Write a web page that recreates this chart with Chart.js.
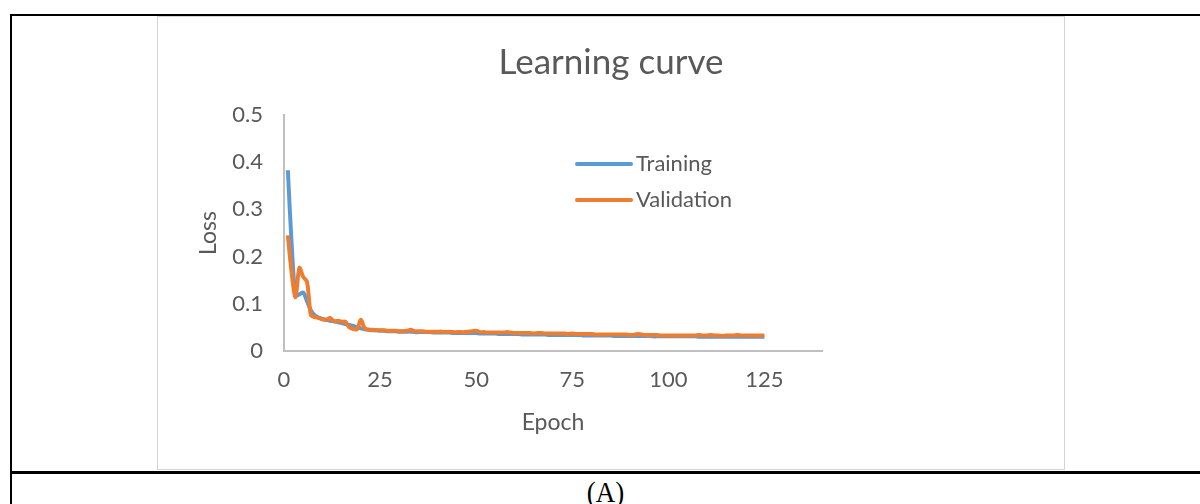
<!DOCTYPE html>
<html>
<head>
<meta charset="utf-8">
<script src="https://cdn.jsdelivr.net/npm/chart.js@4"></script>
<style>
  html, body { margin: 0; padding: 0; background: #fff; }
  body { width: 1200px; height: 504px; position: relative; overflow: hidden; }
  .rule { position: absolute; background: #000; }
  #frame {
    position: absolute; left: 157px; top: 16px; width: 908px; height: 454px;
    box-sizing: border-box; border: 1px solid #d4d4d4; background: #fff;
  }
  #caption {
    position: absolute; left: 11px; right: 0; top: 476px; height: 32px;
    text-align: center; font-family: "Liberation Serif", "DejaVu Serif", serif;
    font-size: 30px; line-height: 32px; color: #000;
    transform: scaleX(0.9);
  }
</style>
</head>
<body>
<div class="rule" style="left:11px; top:14px; width:1189px; height:2px;"></div>
<div class="rule" style="left:10px; top:14px; width:2px; height:490px;"></div>
<div class="rule" style="left:11px; top:471px; width:1189px; height:3px;"></div>
<div id="frame"><canvas id="lossChart" width="906" height="452"></canvas></div>
<div id="caption">(A)</div>

<script>
// Loss per epoch
const epochs = Array.from({ length: 125 }, (_, i) => i + 1);

const trainingLoss = [
  0.383, 0.225, 0.118, 0.120, 0.124, 0.105, 0.086, 0.076, 0.071, 0.068,
  0.066, 0.064, 0.063, 0.061, 0.059, 0.057, 0.055, 0.053, 0.050, 0.048,
  0.046, 0.045, 0.044, 0.044, 0.043, 0.043, 0.042, 0.042, 0.042, 0.041,
  0.041, 0.041, 0.041, 0.040, 0.040, 0.040, 0.040, 0.040, 0.039, 0.039,
  0.039, 0.039, 0.039, 0.038, 0.038, 0.038, 0.038, 0.038, 0.038, 0.038,
  0.037, 0.037, 0.037, 0.037, 0.037, 0.036, 0.036, 0.036, 0.036, 0.036,
  0.036, 0.035, 0.035, 0.035, 0.035, 0.035, 0.035, 0.035, 0.034, 0.034,
  0.034, 0.034, 0.034, 0.034, 0.034, 0.034, 0.034, 0.033, 0.033, 0.033,
  0.033, 0.033, 0.033, 0.033, 0.033, 0.032, 0.032, 0.032, 0.032, 0.032,
  0.032, 0.032, 0.032, 0.032, 0.032, 0.031, 0.031, 0.031, 0.031, 0.031,
  0.031, 0.031, 0.031, 0.031, 0.031, 0.031, 0.031, 0.030, 0.030, 0.030,
  0.030, 0.030, 0.030, 0.030, 0.030, 0.030, 0.030, 0.030, 0.030, 0.030,
  0.030, 0.030, 0.030, 0.030, 0.030
];

const validationLoss = [
  0.245, 0.165, 0.114, 0.176, 0.157, 0.146, 0.076, 0.072, 0.070, 0.067,
  0.066, 0.070, 0.063, 0.064, 0.062, 0.062, 0.050, 0.047, 0.046, 0.066,
  0.048, 0.045, 0.045, 0.044, 0.044, 0.044, 0.043, 0.043, 0.043, 0.042,
  0.042, 0.043, 0.045, 0.042, 0.042, 0.042, 0.041, 0.041, 0.041, 0.041,
  0.041, 0.040, 0.041, 0.040, 0.040, 0.040, 0.040, 0.041, 0.042, 0.043,
  0.040, 0.040, 0.039, 0.039, 0.039, 0.039, 0.039, 0.040, 0.039, 0.038,
  0.038, 0.038, 0.038, 0.038, 0.037, 0.038, 0.038, 0.037, 0.037, 0.037,
  0.037, 0.037, 0.037, 0.036, 0.037, 0.036, 0.036, 0.036, 0.036, 0.036,
  0.035, 0.035, 0.035, 0.035, 0.035, 0.035, 0.035, 0.035, 0.035, 0.034,
  0.034, 0.036, 0.035, 0.034, 0.034, 0.034, 0.034, 0.033, 0.033, 0.033,
  0.033, 0.033, 0.033, 0.033, 0.033, 0.033, 0.033, 0.034, 0.033, 0.033,
  0.034, 0.033, 0.033, 0.032, 0.033, 0.033, 0.033, 0.034, 0.033, 0.033,
  0.033, 0.033, 0.033, 0.033, 0.033
];

const xTicks = [0, 25, 50, 75, 100, 125];
const seriesNames = ['Training', 'Validation'];
const seriesColors = ['#5B9BD5', '#ED7D31'];

const textColor = '#595959';
const axisColor = '#bfbfbf';
const fontFamily = 'Lato, "Open Sans", sans-serif';

// Excel-style title and in-plot legend
const excelDecor = {
    id: 'excelDecor',
    afterDraw(chart) {
        const ctx = chart.ctx;
        ctx.save();
        ctx.fillStyle = textColor;
        ctx.font = '35px ' + fontFamily;
        ctx.textAlign = 'center';
        ctx.textBaseline = 'alphabetic';
        ctx.fillText('Learning curve', 453, 57);

        ctx.font = '22px ' + fontFamily;
        ctx.textAlign = 'left';
        ctx.textBaseline = 'middle';
        chart.data.datasets.forEach((ds, i) => {
            const y = 147 + i * 36;
            ctx.strokeStyle = ds.borderColor;
            ctx.lineWidth = 4;
            ctx.lineCap = 'round';
            ctx.beginPath();
            ctx.moveTo(419, y);
            ctx.lineTo(473, y);
            ctx.stroke();
            ctx.fillText(ds.label, 478, y);
        });
        ctx.restore();
    }
};

const ctx = document.getElementById('lossChart').getContext('2d');
new Chart(ctx, {
    type: 'line',
    data: {
        datasets: [
            {
                label: seriesNames[0],
                data: epochs.map((e, i) => ({ x: e, y: trainingLoss[i] })),
                borderColor: seriesColors[0],
                borderWidth: 4,
                pointRadius: 0,
                tension: 0.3,
                order: 2
            },
            {
                label: seriesNames[1],
                data: epochs.map((e, i) => ({ x: e, y: validationLoss[i] })),
                borderColor: seriesColors[1],
                borderWidth: 4,
                pointRadius: 0,
                tension: 0.3,
                order: 1
            }
        ]
    },
    options: {
        responsive: false,
        animation: false,
        events: [],
        layout: {
            padding: { left: 0, top: 98, right: 242, bottom: 0 }
        },
        plugins: {
            legend: { display: false },
            title: { display: false },
            tooltip: { enabled: false }
        },
        scales: {
            x: {
                type: 'linear',
                min: 0,
                max: 140,
                afterBuildTicks: scale => {
                    scale.ticks = xTicks.map(v => ({ value: v }));
                },
                afterFit: scale => { scale.height = 118; },
                grid: { display: false, drawTicks: false },
                border: { display: true, color: axisColor, width: 2 },
                ticks: {
                    color: textColor,
                    padding: 16,
                    maxRotation: 0,
                    font: { family: fontFamily, size: 22 }
                },
                title: {
                    display: true,
                    text: 'Epoch',
                    color: textColor,
                    padding: { top: 0, bottom: 33 },
                    font: { family: fontFamily, size: 23 }
                }
            },
            y: {
                min: 0,
                max: 0.5,
                afterFit: scale => { scale.width = 126; },
                grid: { display: false, drawTicks: false },
                border: { display: true, color: axisColor, width: 2 },
                ticks: {
                    stepSize: 0.1,
                    color: textColor,
                    padding: 21,
                    font: { family: fontFamily, size: 22 },
                    callback: v => (v === 0 ? '0' : v.toFixed(1))
                },
                title: {
                    display: true,
                    text: 'Loss',
                    color: textColor,
                    padding: { top: 37, bottom: 0 },
                    font: { family: fontFamily, size: 23 }
                }
            }
        }
    },
    plugins: [excelDecor]
});
</script>
</body>
</html>
